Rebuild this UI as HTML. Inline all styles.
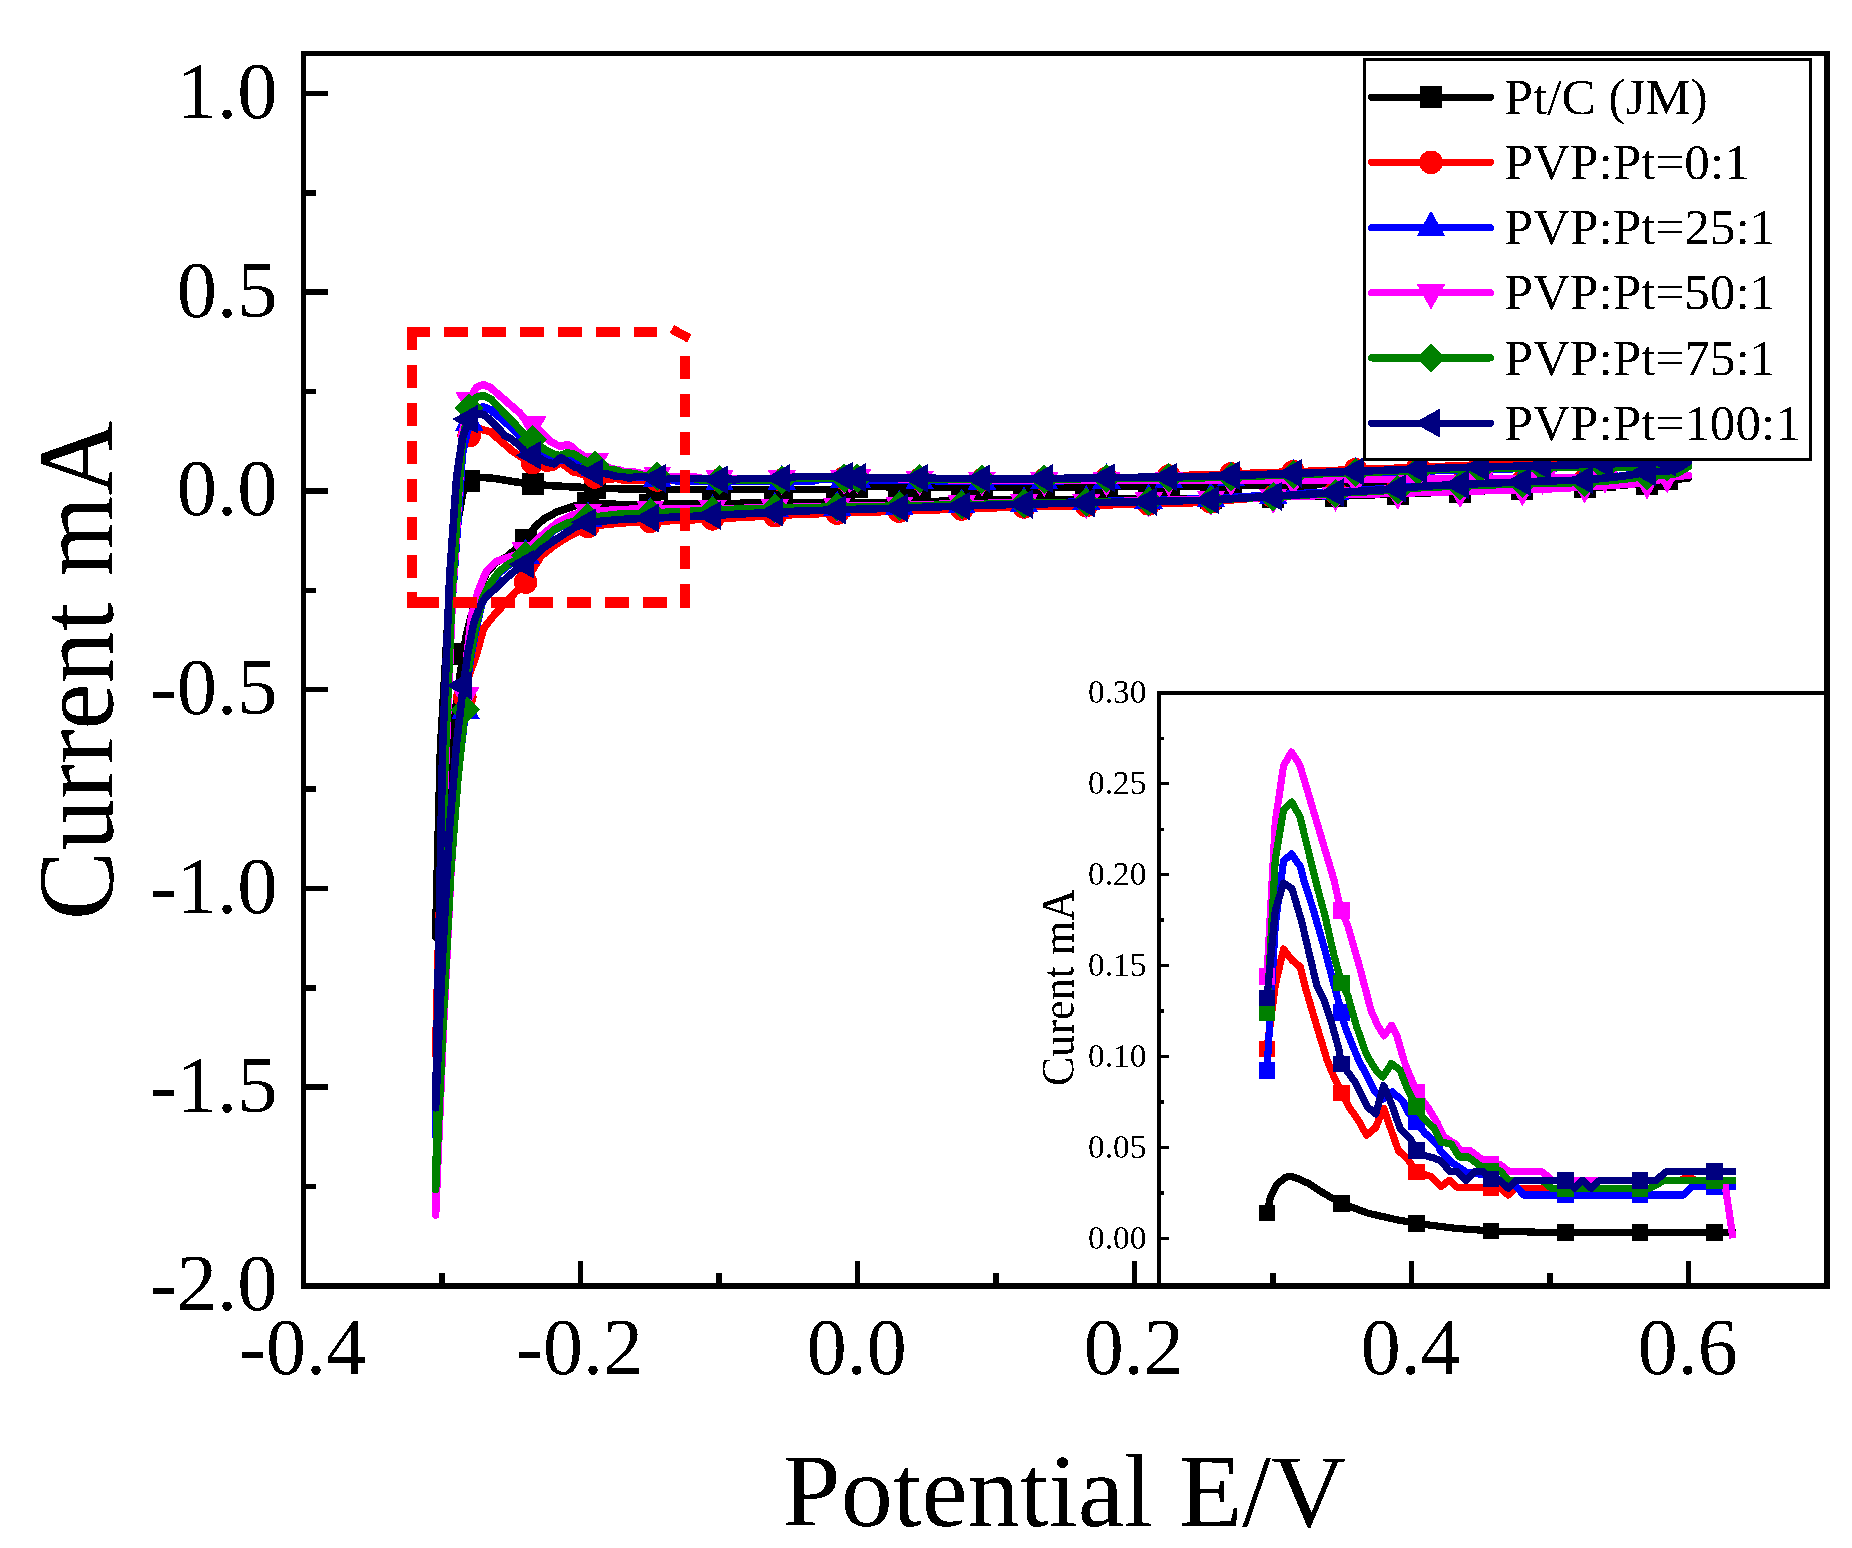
<!DOCTYPE html>
<html lang="en"><head><meta charset="utf-8"><title>CV curves</title>
<style>html,body{margin:0;padding:0;background:#fff;}svg{display:block;}text{font-family:"Liberation Serif",serif;fill:#000;}</style>
</head><body>
<svg width="1852" height="1548" viewBox="0 0 1852 1548">
<defs><filter id="bw" x="-5%" y="-20%" width="110%" height="140%" color-interpolation-filters="sRGB"><feComponentTransfer><feFuncA type="discrete" tableValues="0 1"/></feComponentTransfer></filter></defs>
<rect x="0" y="0" width="1852" height="1548" fill="#fff"/>
<g shape-rendering="crispEdges" stroke="#000" fill="none">
<rect x="303.5" y="53.7" width="1523.7" height="1232.3" stroke-width="5.5"/>
<path d="M305.75 93.45H328.25 M305.75 192.82H316.25 M305.75 292.20H328.25 M305.75 391.57H316.25 M305.75 490.95H328.25 M305.75 590.33H316.25 M305.75 689.70H328.25 M305.75 789.08H316.25 M305.75 888.45H328.25 M305.75 987.83H316.25 M305.75 1087.20H328.25 M305.75 1186.58H316.25 M442.00 1283.75V1273.25 M580.50 1283.75V1261.25 M719.00 1283.75V1273.25 M857.50 1283.75V1261.25 M996.00 1283.75V1273.25 M1134.50 1283.75V1261.25 M1273.00 1283.75V1273.25 M1411.50 1283.75V1261.25 M1550.00 1283.75V1273.25 M1688.50 1283.75V1261.25" stroke-width="5.5"/>
</g>
<g shape-rendering="crispEdges" fill="none" stroke-linejoin="round" stroke-linecap="butt">
<path d="M857.3 486.5 L1000 487.5 L1200 486 L1380 484 L1550 481 L1667 478.5 L1688.4 478 L1688.4 478 L1675 479.5 L1647 483.7 L1585 487 L1380 494.6 L1200 498.4 L1000 500 L860 503 L740 503.3 L650 504.5 L620 504.5 L587 503 L573.8 506.2 L557.5 511.6 L544 518.9 L534.9 527 L525 540.3 L516 549 L507 556.5 L496 562.5 L486.5 572.5 L479 591 L474 606 L469.3 623 L466 637 L463.3 654 L459 682 L454.5 720 L451 760 L446 820 L441 880 L435.6 937 L440.4 750 L445 670 L448.5 610 L452 560 L457 525 L460.3 507 L462.6 493.6 L466 484 L470.3 480 L478.1 477.6 L483.6 477.5 L490.6 478.1 L498.4 479 L509.1 480.9 L525.6 483.4 L548.3 485.5 L572.1 486.9 L588.2 487.7 L620.4 488.8 L650.9 489.4 L706.4 489.7 L854.8 489.7" stroke="#000000" stroke-width="7.6"/>
<g stroke="none"><rect x="846.3" y="475.5" width="22" height="22" fill="#000000"/><rect x="908.6" y="475.9" width="22" height="22" fill="#000000"/><rect x="970.9" y="476.4" width="22" height="22" fill="#000000"/><rect x="1033.2" y="476.2" width="22" height="22" fill="#000000"/><rect x="1095.5" y="475.7" width="22" height="22" fill="#000000"/><rect x="1157.8" y="475.2" width="22" height="22" fill="#000000"/><rect x="1220.1" y="474.7" width="22" height="22" fill="#000000"/><rect x="1282.4" y="474" width="22" height="22" fill="#000000"/><rect x="1344.7" y="473.3" width="22" height="22" fill="#000000"/><rect x="1407" y="472.3" width="22" height="22" fill="#000000"/><rect x="1469.3" y="471.2" width="22" height="22" fill="#000000"/><rect x="1531.6" y="470.1" width="22" height="22" fill="#000000"/><rect x="1593.9" y="468.8" width="22" height="22" fill="#000000"/><rect x="1656.2" y="467.5" width="22" height="22" fill="#000000"/><rect x="452.3" y="643" width="22" height="22" fill="#000000"/><rect x="514.6" y="528.5" width="22" height="22" fill="#000000"/><rect x="576.9" y="492" width="22" height="22" fill="#000000"/><rect x="639.2" y="493.5" width="22" height="22" fill="#000000"/><rect x="701.5" y="492.7" width="22" height="22" fill="#000000"/><rect x="763.8" y="492.2" width="22" height="22" fill="#000000"/><rect x="826.1" y="492.1" width="22" height="22" fill="#000000"/><rect x="888.4" y="491.2" width="22" height="22" fill="#000000"/><rect x="950.7" y="489.8" width="22" height="22" fill="#000000"/><rect x="1013" y="488.8" width="22" height="22" fill="#000000"/><rect x="1075.3" y="488.3" width="22" height="22" fill="#000000"/><rect x="1137.6" y="487.8" width="22" height="22" fill="#000000"/><rect x="1199.9" y="487.2" width="22" height="22" fill="#000000"/><rect x="1262.2" y="485.9" width="22" height="22" fill="#000000"/><rect x="1324.5" y="484.5" width="22" height="22" fill="#000000"/><rect x="1386.8" y="482.9" width="22" height="22" fill="#000000"/><rect x="1449.1" y="480.6" width="22" height="22" fill="#000000"/><rect x="1511.4" y="478.3" width="22" height="22" fill="#000000"/><rect x="1573.7" y="476" width="22" height="22" fill="#000000"/><rect x="1636" y="472.7" width="22" height="22" fill="#000000"/><rect x="458.2" y="470" width="22" height="22" fill="#000000"/><rect x="521.6" y="473" width="22" height="22" fill="#000000"/><rect x="583.9" y="476.9" width="22" height="22" fill="#000000"/><rect x="646.2" y="478.4" width="22" height="22" fill="#000000"/><rect x="708.5" y="478.7" width="22" height="22" fill="#000000"/><rect x="770.8" y="478.7" width="22" height="22" fill="#000000"/><rect x="833.1" y="478.7" width="22" height="22" fill="#000000"/></g>
<path d="M857.3 478.8 L1012 480.1 L1100 478.8 L1200 474.9 L1206 474.8 L1379 468.9 L1453 466 L1550 463.9 L1605 462.4 L1667 460.6 L1688.4 459.9 L1688.4 462 L1681.5 466.5 L1674.6 470 L1667 471 L1647 472 L1635 474.4 L1616 477 L1585 480 L1545 481 L1490 483.2 L1426 486 L1380 490 L1300 494.7 L1240 499.2 L1206 502.1 L1185 503.1 L1100 505 L1012 507.2 L900 511.1 L800 514.3 L740 517.5 L700 519.5 L650 521.5 L620 523 L587.5 526.5 L566.9 537.4 L554 545.8 L541 556.2 L533 569 L524.9 583.3 L515.2 592.4 L505.5 602.7 L492.6 616.9 L483.6 628.5 L476 656 L469 675 L464.8 697 L457.7 747.4 L450.5 817.8 L443.2 925.5 L435.6 1055 L444.1 726.9 L451.7 575.8 L458.9 485.4 L462.3 449.5 L469.2 435.6 L476.3 427.7 L483.5 430.1 L490.8 431.7 L496 436.8 L501.9 441.9 L507.7 447 L513.6 452 L519.8 456 L525.6 459.1 L531.7 462.2 L540 465.3 L546.5 468.4 L554.2 466.7 L560.7 462.5 L567.3 467.5 L573.3 471.9 L580.4 473.4 L588.2 476.5 L600.6 477.5 L608.9 479.6 L615.6 478.3 L622.3 479.8 L650.9 479.8 L658.4 480 L664.8 481.5 L671.3 480 L782.4 480.1 L795.4 478.3 L808.3 478.3 L815 477.5 L821.6 478.3 L854.8 478.3" stroke="#ff0000" stroke-width="7.6"/>
<g stroke="none"><circle cx="857.3" cy="478.8" r="11.8" fill="#ff0000"/><circle cx="919.6" cy="479.3" r="11.8" fill="#ff0000"/><circle cx="981.9" cy="479.8" r="11.8" fill="#ff0000"/><circle cx="1044.2" cy="479.6" r="11.8" fill="#ff0000"/><circle cx="1106.5" cy="478.6" r="11.8" fill="#ff0000"/><circle cx="1168.8" cy="476.1" r="11.8" fill="#ff0000"/><circle cx="1231.1" cy="473.9" r="11.8" fill="#ff0000"/><circle cx="1293.4" cy="471.8" r="11.8" fill="#ff0000"/><circle cx="1355.7" cy="469.7" r="11.8" fill="#ff0000"/><circle cx="1418" cy="467.4" r="11.8" fill="#ff0000"/><circle cx="1480.3" cy="465.4" r="11.8" fill="#ff0000"/><circle cx="1542.6" cy="464.1" r="11.8" fill="#ff0000"/><circle cx="1604.9" cy="462.4" r="11.8" fill="#ff0000"/><circle cx="1667.2" cy="460.6" r="11.8" fill="#ff0000"/><circle cx="464.8" cy="697" r="11.8" fill="#ff0000"/><circle cx="525.6" cy="582.1" r="11.8" fill="#ff0000"/><circle cx="587.9" cy="526.5" r="11.8" fill="#ff0000"/><circle cx="650.2" cy="521.5" r="11.8" fill="#ff0000"/><circle cx="712.5" cy="518.8" r="11.8" fill="#ff0000"/><circle cx="774.8" cy="515.7" r="11.8" fill="#ff0000"/><circle cx="837.1" cy="513.1" r="11.8" fill="#ff0000"/><circle cx="899.4" cy="511.1" r="11.8" fill="#ff0000"/><circle cx="961.7" cy="509" r="11.8" fill="#ff0000"/><circle cx="1024" cy="506.9" r="11.8" fill="#ff0000"/><circle cx="1086.3" cy="505.4" r="11.8" fill="#ff0000"/><circle cx="1148.6" cy="503.9" r="11.8" fill="#ff0000"/><circle cx="1210.9" cy="501.7" r="11.8" fill="#ff0000"/><circle cx="1273.2" cy="496.7" r="11.8" fill="#ff0000"/><circle cx="1335.5" cy="492.6" r="11.8" fill="#ff0000"/><circle cx="1397.8" cy="488.5" r="11.8" fill="#ff0000"/><circle cx="1460.1" cy="484.5" r="11.8" fill="#ff0000"/><circle cx="1522.4" cy="481.9" r="11.8" fill="#ff0000"/><circle cx="1584.7" cy="480" r="11.8" fill="#ff0000"/><circle cx="1647" cy="472" r="11.8" fill="#ff0000"/><circle cx="469.2" cy="435.6" r="11.8" fill="#ff0000"/><circle cx="532.6" cy="462.6" r="11.8" fill="#ff0000"/><circle cx="594.9" cy="477" r="11.8" fill="#ff0000"/><circle cx="657.2" cy="480" r="11.8" fill="#ff0000"/><circle cx="719.5" cy="480" r="11.8" fill="#ff0000"/><circle cx="781.8" cy="480.1" r="11.8" fill="#ff0000"/><circle cx="844.1" cy="478.3" r="11.8" fill="#ff0000"/></g>
<path d="M857.3 480 L1012 481.4 L1206 478.8 L1379 472.9 L1453 470 L1550 467.9 L1605 466.4 L1667 464.6 L1688.4 463.9 L1688.4 462 L1681.5 466.5 L1674.6 470 L1667 470.9 L1647 471.9 L1635 474.2 L1616 476.7 L1585 479.6 L1545 480.5 L1490 482.5 L1426 485.1 L1400 487.3 L1380 489 L1206 498.9 L1200 499 L1012 503.7 L1000 504.1 L900 506.4 L870 507.1 L800 507.9 L740 509.8 L700 511.5 L650 513.2 L620 514.3 L587 518.2 L566.9 523.8 L554 530.5 L541 541.8 L525.2 555.5 L509 565 L499.3 573 L489.8 586 L483.2 599 L476.5 626 L471 656 L467.3 681 L465.6 710.5 L458.4 770.4 L451 853.8 L443.4 981.6 L435.6 1135.3 L444.7 766.2 L452.5 596.3 L459.9 494.5 L462.3 454.2 L469.2 422.3 L476.3 408.5 L483.2 406.9 L491.1 409.8 L493.9 412.6 L501.9 419 L511.6 427.9 L519.3 435.5 L525.7 441.6 L528.1 444.4 L535.9 449.5 L539.8 452 L543.5 453.8 L553.1 458.8 L560.2 460.5 L567.9 459 L576.8 461 L582.1 463.8 L588.2 465.5 L594.7 467.8 L606.5 470.6 L607.8 471.7 L619.4 474.7 L629.6 476.5 L650.9 477.3 L658 478.2 L671.3 479.6 L677.8 481.5 L811.3 481.5 L818.6 479.6 L854.8 479.6" stroke="#0000ff" stroke-width="7.6"/>
<g stroke="none"><path d="M857.3 463.2L871.5 488.4H843.1Z" fill="#0000ff"/><path d="M919.6 463.8L933.8 489H905.4Z" fill="#0000ff"/><path d="M981.9 464.3L996.1 489.5H967.7Z" fill="#0000ff"/><path d="M1044.2 464.2L1058.4 489.4H1030Z" fill="#0000ff"/><path d="M1106.5 463.3L1120.7 488.5H1092.3Z" fill="#0000ff"/><path d="M1168.8 462.5L1183 487.7H1154.6Z" fill="#0000ff"/><path d="M1231.1 461.1L1245.3 486.3H1216.9Z" fill="#0000ff"/><path d="M1293.4 459L1307.6 484.2H1279.2Z" fill="#0000ff"/><path d="M1355.7 456.9L1369.9 482.1H1341.5Z" fill="#0000ff"/><path d="M1418 454.6L1432.2 479.8H1403.8Z" fill="#0000ff"/><path d="M1480.3 452.6L1494.5 477.8H1466.1Z" fill="#0000ff"/><path d="M1542.6 451.3L1556.8 476.5H1528.4Z" fill="#0000ff"/><path d="M1604.9 449.6L1619.1 474.8H1590.7Z" fill="#0000ff"/><path d="M1667.2 447.8L1681.4 473H1653Z" fill="#0000ff"/><path d="M465.6 693.7L479.8 718.9H451.4Z" fill="#0000ff"/><path d="M525.6 538.4L539.8 563.6H511.4Z" fill="#0000ff"/><path d="M587.9 501.3L602.1 526.5H573.7Z" fill="#0000ff"/><path d="M650.2 496.4L664.4 521.6H636Z" fill="#0000ff"/><path d="M712.5 494.2L726.7 519.4H698.3Z" fill="#0000ff"/><path d="M774.8 491.9L789 517.1H760.6Z" fill="#0000ff"/><path d="M837.1 490.7L851.3 515.9H822.9Z" fill="#0000ff"/><path d="M899.4 489.6L913.6 514.8H885.2Z" fill="#0000ff"/><path d="M961.7 488.2L975.9 513.4H947.5Z" fill="#0000ff"/><path d="M1024 486.6L1038.2 511.8H1009.8Z" fill="#0000ff"/><path d="M1086.3 485L1100.5 510.2H1072.1Z" fill="#0000ff"/><path d="M1148.6 483.5L1162.8 508.7H1134.4Z" fill="#0000ff"/><path d="M1210.9 481.8L1225.1 507H1196.7Z" fill="#0000ff"/><path d="M1273.2 478.3L1287.4 503.5H1259Z" fill="#0000ff"/><path d="M1335.5 474.7L1349.7 499.9H1321.3Z" fill="#0000ff"/><path d="M1397.8 470.7L1412 495.8H1383.6Z" fill="#0000ff"/><path d="M1460.1 466.9L1474.3 492.1H1445.9Z" fill="#0000ff"/><path d="M1522.4 464.5L1536.6 489.7H1508.2Z" fill="#0000ff"/><path d="M1584.7 462.9L1598.9 488H1570.5Z" fill="#0000ff"/><path d="M1647 455.1L1661.2 480.3H1632.8Z" fill="#0000ff"/><path d="M469.2 405.5L483.4 430.6H455Z" fill="#0000ff"/><path d="M532.6 430.6L546.8 455.8H518.4Z" fill="#0000ff"/><path d="M594.9 451.1L609.1 476.3H580.7Z" fill="#0000ff"/><path d="M657.2 461.3L671.4 486.5H643Z" fill="#0000ff"/><path d="M719.5 464.7L733.7 489.9H705.3Z" fill="#0000ff"/><path d="M781.8 464.7L796 489.9H767.6Z" fill="#0000ff"/><path d="M844.1 462.8L858.3 488H829.9Z" fill="#0000ff"/></g>
<path d="M857.3 477.2 L920 479.5 L1044 480.4 L1300 480 L1542 478.3 L1605 476.8 L1667 476.8 L1688.4 475.4 L1688.4 475.4 L1675 476 L1647 482.9 L1593 486.5 L1550 488.8 L1335 495 L1273 497.2 L1210 499.3 L1081 502.3 L1022 502.6 L740 508.4 L649.5 508.9 L620 509.5 L586.3 512 L572 515 L557.5 522.5 L540 537 L523.8 552.2 L507 558 L496 561.4 L486.5 571 L478.6 590 L471.6 615.6 L467 655 L465.6 695 L458.4 768.3 L451 870.4 L443.4 1026.8 L435.6 1214.9 L444.6 791.5 L452.4 596.6 L459.7 479.9 L462.3 433.7 L469.2 399.9 L476.3 387.6 L483.2 384.6 L490.4 387.5 L519.3 412.6 L523.1 417 L525.7 419.3 L531 422.8 L540.8 431.7 L550.5 441.4 L556.3 444.7 L561.1 446.7 L567.4 444.4 L571.9 446.7 L577.6 452 L579.2 453.2 L585.1 456.9 L588.2 459.1 L598.2 462.5 L605.3 465.7 L611.2 468.8 L620.4 470.3 L625.1 471.7 L632.4 471.7 L643.9 474 L650.9 474.9 L658.4 474.9 L665.6 476.4 L692.9 476.4 L701.6 478.3 L845.4 478.3 L852.5 490.9" stroke="#ff00ff" stroke-width="7.6"/>
<g stroke="none"><path d="M857.3 494L871.5 468.8H843.1Z" fill="#ff00ff"/><path d="M919.6 496.3L933.8 471.1H905.4Z" fill="#ff00ff"/><path d="M981.9 496.7L996.1 471.6H967.7Z" fill="#ff00ff"/><path d="M1044.2 497.2L1058.4 472H1030Z" fill="#ff00ff"/><path d="M1106.5 497.1L1120.7 471.9H1092.3Z" fill="#ff00ff"/><path d="M1168.8 497L1183 471.8H1154.6Z" fill="#ff00ff"/><path d="M1231.1 496.9L1245.3 471.7H1216.9Z" fill="#ff00ff"/><path d="M1293.4 496.8L1307.6 471.6H1279.2Z" fill="#ff00ff"/><path d="M1355.7 496.4L1369.9 471.2H1341.5Z" fill="#ff00ff"/><path d="M1418 496L1432.2 470.8H1403.8Z" fill="#ff00ff"/><path d="M1480.3 495.5L1494.5 470.3H1466.1Z" fill="#ff00ff"/><path d="M1542.6 495.1L1556.8 469.9H1528.4Z" fill="#ff00ff"/><path d="M1604.9 493.6L1619.1 468.4H1590.7Z" fill="#ff00ff"/><path d="M1667.2 493.6L1681.4 468.4H1653Z" fill="#ff00ff"/><path d="M465.6 711.8L479.8 686.6H451.4Z" fill="#ff00ff"/><path d="M525.6 567.3L539.8 542.1H511.4Z" fill="#ff00ff"/><path d="M587.9 528.7L602.1 503.5H573.7Z" fill="#ff00ff"/><path d="M650.2 525.7L664.4 500.5H636Z" fill="#ff00ff"/><path d="M712.5 525.3L726.7 500.2H698.3Z" fill="#ff00ff"/><path d="M774.8 524.5L789 499.3H760.6Z" fill="#ff00ff"/><path d="M837.1 523.2L851.3 498H822.9Z" fill="#ff00ff"/><path d="M899.4 521.9L913.6 496.7H885.2Z" fill="#ff00ff"/><path d="M961.7 520.6L975.9 495.4H947.5Z" fill="#ff00ff"/><path d="M1024 519.4L1038.2 494.2H1009.8Z" fill="#ff00ff"/><path d="M1086.3 519L1100.5 493.8H1072.1Z" fill="#ff00ff"/><path d="M1148.6 517.5L1162.8 492.3H1134.4Z" fill="#ff00ff"/><path d="M1210.9 516.1L1225.1 490.9H1196.7Z" fill="#ff00ff"/><path d="M1273.2 514L1287.4 488.8H1259Z" fill="#ff00ff"/><path d="M1335.5 511.8L1349.7 486.6H1321.3Z" fill="#ff00ff"/><path d="M1397.8 510L1412 484.8H1383.6Z" fill="#ff00ff"/><path d="M1460.1 508.2L1474.3 483H1445.9Z" fill="#ff00ff"/><path d="M1522.4 506.4L1536.6 481.2H1508.2Z" fill="#ff00ff"/><path d="M1584.7 503.7L1598.9 478.5H1570.5Z" fill="#ff00ff"/><path d="M1647 499.7L1661.2 474.5H1632.8Z" fill="#ff00ff"/><path d="M469.2 416.7L483.4 391.5H455Z" fill="#ff00ff"/><path d="M532.6 441L546.8 415.8H518.4Z" fill="#ff00ff"/><path d="M594.9 478.2L609.1 453H580.7Z" fill="#ff00ff"/><path d="M657.2 491.7L671.4 466.5H643Z" fill="#ff00ff"/><path d="M719.5 495.1L733.7 469.9H705.3Z" fill="#ff00ff"/><path d="M781.8 495.1L796 469.9H767.6Z" fill="#ff00ff"/><path d="M844.1 495.1L858.3 469.9H829.9Z" fill="#ff00ff"/></g>
<path d="M857.3 478.2 L1012 479.6 L1150 477.8 L1200 477.8 L1206 477.7 L1379 471.8 L1400 471 L1453 469.1 L1550 467.5 L1605 467.4 L1667 467.1 L1688.4 466.5 L1688.4 466.5 L1681.5 470.9 L1674.6 474.2 L1667 475 L1647 475.6 L1635 477.8 L1616 480.1 L1585 482.6 L1550 482.9 L1545 483 L1490 484.9 L1426 487.3 L1380 491 L1206 500.2 L1200 500.3 L1012 503.7 L1000 504 L900 506 L870 506.6 L800 507.6 L740 509 L700 510.9 L650 512.9 L620 514 L587 517.8 L566.9 523.2 L554 529.7 L541 541.3 L525.2 556.3 L508.8 563.9 L499.1 571.7 L489.4 584.6 L482.9 597.5 L476 625 L470.5 655 L467 680 L465.1 709.8 L458 777.4 L450.7 871.7 L443.3 1016 L435.6 1189.6 L444.2 784.2 L451.8 597.5 L459.1 485.8 L462.3 441.5 L469.2 408 L476.3 397.3 L483.5 395.6 L490.6 398.9 L503.9 412.6 L508.2 417 L511.6 420.3 L519.3 429.2 L525.7 435.2 L531 438.1 L537.9 444.4 L545.6 450.2 L548.3 451.7 L554.2 454.2 L560.2 455.7 L567.3 452.8 L574.4 454.2 L580.4 458.2 L588.2 462.3 L593.4 464.6 L602.9 466.9 L608.9 470 L617.2 470.3 L623.7 473.2 L631.6 473.2 L643.9 475.6 L650.9 476.5 L658.4 476.3 L664.8 478.3 L692.9 478.3 L701.4 480.1 L782.4 480.1 L795.4 478.3 L854.8 478.3" stroke="#008000" stroke-width="7.6"/>
<g stroke="none"><path d="M857.3 463.5L872 478.2L857.3 492.9L842.6 478.2Z" fill="#008000"/><path d="M919.6 464.1L934.3 478.8L919.6 493.5L904.9 478.8Z" fill="#008000"/><path d="M981.9 464.6L996.6 479.3L981.9 494L967.2 479.3Z" fill="#008000"/><path d="M1044.2 464.5L1058.9 479.2L1044.2 493.9L1029.5 479.2Z" fill="#008000"/><path d="M1106.5 463.6L1121.2 478.3L1106.5 493L1091.8 478.3Z" fill="#008000"/><path d="M1168.8 463.1L1183.5 477.8L1168.8 492.5L1154.1 477.8Z" fill="#008000"/><path d="M1231.1 462.1L1245.8 476.8L1231.1 491.5L1216.4 476.8Z" fill="#008000"/><path d="M1293.4 460L1308.1 474.7L1293.4 489.4L1278.7 474.7Z" fill="#008000"/><path d="M1355.7 457.9L1370.4 472.6L1355.7 487.3L1341 472.6Z" fill="#008000"/><path d="M1418 455.7L1432.7 470.4L1418 485.1L1403.3 470.4Z" fill="#008000"/><path d="M1480.3 454L1495 468.7L1480.3 483.4L1465.6 468.7Z" fill="#008000"/><path d="M1542.6 452.9L1557.3 467.6L1542.6 482.3L1527.9 467.6Z" fill="#008000"/><path d="M1604.9 452.7L1619.6 467.4L1604.9 482.1L1590.2 467.4Z" fill="#008000"/><path d="M1667.2 452.4L1681.9 467.1L1667.2 481.8L1652.5 467.1Z" fill="#008000"/><path d="M465.1 695.1L479.8 709.8L465.1 724.5L450.4 709.8Z" fill="#008000"/><path d="M525.6 541.2L540.3 555.9L525.6 570.6L510.9 555.9Z" fill="#008000"/><path d="M587.9 503L602.6 517.7L587.9 532.4L573.2 517.7Z" fill="#008000"/><path d="M650.2 498.2L664.9 512.9L650.2 527.6L635.5 512.9Z" fill="#008000"/><path d="M712.5 495.6L727.2 510.3L712.5 525L697.8 510.3Z" fill="#008000"/><path d="M774.8 493.5L789.5 508.2L774.8 522.9L760.1 508.2Z" fill="#008000"/><path d="M837.1 492.4L851.8 507.1L837.1 521.8L822.4 507.1Z" fill="#008000"/><path d="M899.4 491.3L914.1 506L899.4 520.7L884.7 506Z" fill="#008000"/><path d="M961.7 490.1L976.4 504.8L961.7 519.5L947 504.8Z" fill="#008000"/><path d="M1024 488.7L1038.7 503.4L1024 518.1L1009.3 503.4Z" fill="#008000"/><path d="M1086.3 487.6L1101 502.3L1086.3 517L1071.6 502.3Z" fill="#008000"/><path d="M1148.6 486.5L1163.3 501.2L1148.6 515.9L1133.9 501.2Z" fill="#008000"/><path d="M1210.9 485.3L1225.6 500L1210.9 514.7L1196.2 500Z" fill="#008000"/><path d="M1273.2 482L1287.9 496.7L1273.2 511.4L1258.5 496.7Z" fill="#008000"/><path d="M1335.5 478.7L1350.2 493.4L1335.5 508.1L1320.8 493.4Z" fill="#008000"/><path d="M1397.8 474.9L1412.5 489.6L1397.8 504.3L1383.1 489.6Z" fill="#008000"/><path d="M1460.1 471.3L1474.8 486L1460.1 500.7L1445.4 486Z" fill="#008000"/><path d="M1522.4 469L1537.1 483.7L1522.4 498.4L1507.7 483.7Z" fill="#008000"/><path d="M1584.7 467.9L1599.4 482.6L1584.7 497.3L1570 482.6Z" fill="#008000"/><path d="M1647 460.9L1661.7 475.6L1647 490.3L1632.3 475.6Z" fill="#008000"/><path d="M469.2 393.3L483.9 408L469.2 422.7L454.5 408Z" fill="#008000"/><path d="M532.6 424.8L547.3 439.5L532.6 454.2L517.9 439.5Z" fill="#008000"/><path d="M594.9 450.2L609.6 464.9L594.9 479.6L580.2 464.9Z" fill="#008000"/><path d="M657.2 461.6L671.9 476.3L657.2 491L642.5 476.3Z" fill="#008000"/><path d="M719.5 465.4L734.2 480.1L719.5 494.8L704.8 480.1Z" fill="#008000"/><path d="M781.8 465.4L796.5 480.1L781.8 494.8L767.1 480.1Z" fill="#008000"/><path d="M844.1 463.6L858.8 478.3L844.1 493L829.4 478.3Z" fill="#008000"/></g>
<path d="M857.3 477.6 L1012 479 L1206 476.4 L1379 470.5 L1453 467.6 L1550 465.5 L1605 464 L1667 462.2 L1688.4 461.5 L1688.4 462 L1681.5 466.5 L1674.6 470 L1667 471 L1647 472 L1635 474.4 L1616 477 L1585 480 L1545 481 L1490 483.2 L1426 486 L1380 490 L1206 500.2 L1012 504.5 L900 508 L800 511 L740 514 L700 516 L650.6 518.1 L620 519.5 L587.5 522.4 L575.6 527 L566.9 532.3 L554 540.7 L541 549.7 L534.6 557 L525.4 564.5 L516 570 L507.5 577 L497.1 587 L490.3 593 L485.2 598 L480 606 L473.7 623 L468 652 L463.3 685.5 L456.4 745 L449.5 828 L442.6 955 L435.6 1107.8 L442.7 745 L449.6 578 L456.5 478 L462.3 438.4 L469.2 419.2 L476.3 413.3 L483.5 414.5 L491.9 421.5 L499 429.2 L504.8 435.5 L511.6 439.3 L516.5 443.1 L523.2 449.5 L525.6 452.8 L536.4 456.6 L547.1 462.2 L554.2 463.8 L560.7 457.6 L567.3 461.6 L574.4 466.9 L582.8 469.1 L588.2 471.9 L595.8 472.9 L602.9 473.4 L607.8 474 L616.5 476.4 L622.3 476.4 L629.5 478.3 L636.7 476.4 L643.8 476.4 L650.9 478.2 L658 478.3 L664.8 480 L671.3 478.3 L713.1 478.3 L720.4 480 L726.9 478.3 L734.1 480 L741.3 478.3 L788.2 478.3 L796.8 476.4 L854.8 476.4" stroke="#000080" stroke-width="7.6"/>
<g stroke="none"><path d="M840.3 477.6L865.8 463.2V492Z" fill="#000080"/><path d="M902.6 478.2L928.1 463.8V492.6Z" fill="#000080"/><path d="M964.9 478.7L990.4 464.3V493.1Z" fill="#000080"/><path d="M1027.2 478.6L1052.7 464.2V493Z" fill="#000080"/><path d="M1089.5 477.7L1115 463.3V492.1Z" fill="#000080"/><path d="M1151.8 476.9L1177.3 462.5V491.3Z" fill="#000080"/><path d="M1214.1 475.5L1239.6 461.1V489.9Z" fill="#000080"/><path d="M1276.4 473.4L1301.9 459V487.8Z" fill="#000080"/><path d="M1338.7 471.3L1364.2 456.9V485.7Z" fill="#000080"/><path d="M1401 469L1426.5 454.6V483.4Z" fill="#000080"/><path d="M1463.3 467L1488.8 452.6V481.4Z" fill="#000080"/><path d="M1525.6 465.7L1551.1 451.3V480.1Z" fill="#000080"/><path d="M1587.9 464L1613.4 449.6V478.4Z" fill="#000080"/><path d="M1650.2 462.2L1675.7 447.8V476.6Z" fill="#000080"/><path d="M446.3 685.5L471.8 671.1V699.9Z" fill="#000080"/><path d="M508.6 564.3L534.1 549.9V578.7Z" fill="#000080"/><path d="M570.9 522.4L596.4 508V536.8Z" fill="#000080"/><path d="M633.2 518.1L658.7 503.7V532.5Z" fill="#000080"/><path d="M695.5 515.4L721 501V529.8Z" fill="#000080"/><path d="M757.8 512.3L783.3 497.9V526.7Z" fill="#000080"/><path d="M820.1 509.9L845.6 495.5V524.3Z" fill="#000080"/><path d="M882.4 508L907.9 493.6V522.4Z" fill="#000080"/><path d="M944.7 506.1L970.2 491.7V520.5Z" fill="#000080"/><path d="M1007 504.2L1032.5 489.8V518.6Z" fill="#000080"/><path d="M1069.3 502.9L1094.8 488.5V517.3Z" fill="#000080"/><path d="M1131.6 501.5L1157.1 487.1V515.9Z" fill="#000080"/><path d="M1193.9 499.9L1219.4 485.5V514.3Z" fill="#000080"/><path d="M1256.2 496.3L1281.7 481.9V510.7Z" fill="#000080"/><path d="M1318.5 492.6L1344 478.2V507Z" fill="#000080"/><path d="M1380.8 488.5L1406.3 474.1V502.9Z" fill="#000080"/><path d="M1443.1 484.5L1468.6 470.1V498.9Z" fill="#000080"/><path d="M1505.4 481.9L1530.9 467.5V496.3Z" fill="#000080"/><path d="M1567.7 480L1593.2 465.6V494.4Z" fill="#000080"/><path d="M1630 472L1655.5 457.6V486.4Z" fill="#000080"/><path d="M452.2 419.2L477.7 404.8V433.6Z" fill="#000080"/><path d="M515.6 455.3L541.1 440.9V469.7Z" fill="#000080"/><path d="M577.9 472.8L603.4 458.4V487.2Z" fill="#000080"/><path d="M640.2 478.3L665.7 463.9V492.7Z" fill="#000080"/><path d="M702.5 479.8L728 465.4V494.2Z" fill="#000080"/><path d="M764.8 478.3L790.3 463.9V492.7Z" fill="#000080"/><path d="M827.1 476.4L852.6 462V490.8Z" fill="#000080"/></g>
</g>
<g shape-rendering="crispEdges" fill="#ff0000">
<rect x="407" y="327" width="23" height="9.6"/><rect x="444" y="327" width="24" height="9.6"/><rect x="482" y="327" width="24" height="9.6"/><rect x="520" y="327" width="24" height="9.6"/><rect x="558" y="327" width="24" height="9.6"/><rect x="596" y="327" width="24" height="9.6"/><rect x="634" y="327" width="23" height="9.6"/><rect x="407" y="327" width="10" height="23"/><rect x="407" y="365" width="10" height="23"/><rect x="407" y="403" width="10" height="23"/><rect x="407" y="441" width="10" height="23"/><rect x="407" y="479" width="10" height="23"/><rect x="407" y="517" width="10" height="23"/><rect x="407" y="555" width="10" height="23"/><rect x="407" y="592" width="10" height="15.6"/><rect x="407" y="597" width="31.6" height="10.6"/><rect x="453" y="597" width="24" height="10.6"/><rect x="491" y="597" width="24" height="10.6"/><rect x="529" y="597" width="24" height="10.6"/><rect x="567" y="597" width="24" height="10.6"/><rect x="605" y="597" width="24" height="10.6"/><rect x="643" y="597" width="24" height="10.6"/><rect x="680" y="356" width="9.8" height="23"/><rect x="680" y="394" width="9.8" height="23"/><rect x="680" y="432" width="9.8" height="23"/><rect x="680" y="470" width="9.8" height="23"/><rect x="680" y="508" width="9.8" height="23"/><rect x="680" y="546" width="9.8" height="23"/><rect x="680" y="584" width="9.8" height="23.6"/>
<polygon points="674,325 691.4,334.4 687.4,342.6 669.6,333"/>
</g>
<g font-size="80.6" filter="url(#bw)">
<text x="277.5" y="117.8" text-anchor="end">1.0</text>
<text x="277.5" y="316.6" text-anchor="end">0.5</text>
<text x="277.5" y="515.4" text-anchor="end">0.0</text>
<text x="277.5" y="714.1" text-anchor="end">-0.5</text>
<text x="277.5" y="912.9" text-anchor="end">-1.0</text>
<text x="277.5" y="1111.6" text-anchor="end">-1.5</text>
<text x="277.5" y="1310.4" text-anchor="end">-2.0</text>
</g>
<g font-size="80" filter="url(#bw)">
<text x="302.7" y="1373.8" text-anchor="middle">-0.4</text>
<text x="579.7" y="1373.8" text-anchor="middle">-0.2</text>
<text x="856.7" y="1373.8" text-anchor="middle">0.0</text>
<text x="1133.7" y="1373.8" text-anchor="middle">0.2</text>
<text x="1410.7" y="1373.8" text-anchor="middle">0.4</text>
<text x="1687.7" y="1373.8" text-anchor="middle">0.6</text>
</g>
<text filter="url(#bw)" font-size="104.5" text-anchor="middle" transform="translate(1064.6 1525.5) scale(0.996 1)">Potential E/V</text>
<text filter="url(#bw)" font-size="107" text-anchor="middle" transform="translate(112.6 670.4) rotate(-90) scale(0.972 1)">Current mA</text>
<g shape-rendering="crispEdges" stroke="#000" fill="none">
<path d="M1159.2 1284.0V693.0H1825.2" stroke-width="3.6"/>
<path d="M1160.2 738.3h4.0 M1160.2 783.7h8.8 M1160.2 829.2h4.0 M1160.2 874.6h8.8 M1160.2 920.1h4.0 M1160.2 965.5h8.8 M1160.2 1011.0h4.0 M1160.2 1056.4h8.8 M1160.2 1101.9h4.0 M1160.2 1147.3h8.8 M1160.2 1192.8h4.0 M1160.2 1238.2h8.8" stroke-width="3.4"/>
</g>
<g shape-rendering="crispEdges" fill="none" stroke-linejoin="round" stroke-linecap="butt">
<path d="M1267 1212.9 L1270.6 1196.4 L1276.3 1185 L1285.6 1177.2 L1292 1176.5 L1300 1179.5 L1309 1183.6 L1321.8 1192.1 L1341.5 1203.5 L1368.7 1213.4 L1397.2 1219.8 L1416.5 1223.4 L1455 1228.3 L1491.6 1231 L1558 1232.7 L1735.7 1232.7" stroke="#000000" stroke-width="7.2"/>
<g stroke="none"><rect x="1258.7" y="1204.6" width="16.6" height="16.6" fill="#000000"/><rect x="1333.3" y="1195.2" width="16.6" height="16.6" fill="#000000"/><rect x="1407.9" y="1215" width="16.6" height="16.6" fill="#000000"/><rect x="1482.5" y="1222.6" width="16.6" height="16.6" fill="#000000"/><rect x="1557.1" y="1224.4" width="16.6" height="16.6" fill="#000000"/><rect x="1631.7" y="1224.4" width="16.6" height="16.6" fill="#000000"/><rect x="1706.3" y="1224.4" width="16.6" height="16.6" fill="#000000"/></g>
<path d="M1267 1048.8 L1275.3 985 L1283.6 949 L1291.9 960 L1300.3 967 L1306.2 990.5 L1313.1 1013.7 L1320.1 1037 L1327.1 1060 L1334.6 1078.4 L1341.5 1092.6 L1348.8 1106.8 L1358.8 1121 L1366.6 1135.2 L1375.8 1127.4 L1383.6 1108.2 L1391.5 1131 L1398.6 1150.9 L1407.1 1158 L1416.5 1172.3 L1431.3 1176.5 L1441.2 1186.4 L1449.3 1180.3 L1457.3 1187.3 L1491.6 1187.3 L1500.5 1188.1 L1508.2 1195 L1516 1188.1 L1649 1188.4 L1664.6 1180.3 L1680 1180.3 L1688 1176.5 L1696 1180.3 L1735.7 1180.3" stroke="#ff0000" stroke-width="7.2"/>
<g stroke="none"><rect x="1258.7" y="1040.5" width="16.6" height="16.6" fill="#ff0000"/><rect x="1333.3" y="1084.5" width="16.6" height="16.6" fill="#ff0000"/><rect x="1407.9" y="1163.5" width="16.6" height="16.6" fill="#ff0000"/><rect x="1482.5" y="1179" width="16.6" height="16.6" fill="#ff0000"/><rect x="1557.1" y="1179.9" width="16.6" height="16.6" fill="#ff0000"/><rect x="1631.7" y="1180.1" width="16.6" height="16.6" fill="#ff0000"/><rect x="1706.3" y="1172" width="16.6" height="16.6" fill="#ff0000"/></g>
<path d="M1267 1070.3 L1275.3 924 L1283.6 861 L1291.5 854 L1300.6 867 L1303.8 880 L1313.1 909 L1324.8 949.8 L1334 984.7 L1341.6 1012.6 L1344.5 1025.3 L1353.8 1048.6 L1358.5 1060 L1363 1068.4 L1374.4 1091.2 L1383 1099 L1392.2 1091.9 L1402.8 1101.1 L1409.2 1113.9 L1416.5 1122 L1424.2 1132.4 L1438.4 1145.2 L1440 1150.1 L1453.8 1163.9 L1466 1172 L1491.6 1176 L1500 1180 L1516 1186.4 L1523.8 1195 L1683.6 1195 L1692.3 1186.4 L1735.7 1186.4" stroke="#0000ff" stroke-width="7.2"/>
<g stroke="none"><rect x="1258.7" y="1062" width="16.6" height="16.6" fill="#0000ff"/><rect x="1333.3" y="1004.3" width="16.6" height="16.6" fill="#0000ff"/><rect x="1407.9" y="1113.4" width="16.6" height="16.6" fill="#0000ff"/><rect x="1482.5" y="1167.6" width="16.6" height="16.6" fill="#0000ff"/><rect x="1557.1" y="1186.7" width="16.6" height="16.6" fill="#0000ff"/><rect x="1631.7" y="1186.7" width="16.6" height="16.6" fill="#0000ff"/><rect x="1706.3" y="1178.1" width="16.6" height="16.6" fill="#0000ff"/></g>
<path d="M1267 976.4 L1275.3 822 L1283.6 765.5 L1291.5 752 L1299.8 765 L1334 880 L1338.5 900 L1341.6 910.5 L1348 926.5 L1359.7 967.2 L1371.3 1011.4 L1378.3 1026.5 L1384 1035.8 L1391.6 1025.3 L1396.9 1035.8 L1403.8 1060 L1405.7 1065.6 L1412.8 1082.6 L1416.5 1092.6 L1428.4 1108.2 L1437 1122.5 L1444 1136.7 L1455 1143.8 L1460.7 1150.1 L1469.4 1150.1 L1483.2 1160.5 L1491.6 1164.8 L1500.5 1164.8 L1509.1 1171.7 L1541.9 1171.7 L1552.3 1180.3 L1724.5 1180.3 L1732.9 1238.2" stroke="#ff00ff" stroke-width="7.2"/>
<g stroke="none"><rect x="1258.7" y="968.1" width="16.6" height="16.6" fill="#ff00ff"/><rect x="1333.3" y="902.2" width="16.6" height="16.6" fill="#ff00ff"/><rect x="1407.9" y="1083.5" width="16.6" height="16.6" fill="#ff00ff"/><rect x="1482.5" y="1156.1" width="16.6" height="16.6" fill="#ff00ff"/><rect x="1557.1" y="1172" width="16.6" height="16.6" fill="#ff00ff"/><rect x="1631.7" y="1172" width="16.6" height="16.6" fill="#ff00ff"/><rect x="1706.3" y="1172" width="16.6" height="16.6" fill="#ff00ff"/></g>
<path d="M1267 1012.2 L1275.3 859 L1283.6 810 L1291.8 802 L1300 817 L1315.5 880 L1320.7 900 L1324.8 914.9 L1334 955.6 L1341.6 983.1 L1348 996.3 L1356.2 1025.3 L1365.5 1052 L1368.7 1058.5 L1375.8 1069.9 L1382.9 1077 L1391.5 1063.5 L1400 1069.9 L1407.1 1088.3 L1416.5 1107 L1422.7 1117.5 L1434.1 1128.1 L1441.2 1142.3 L1451.2 1143.8 L1459 1157 L1468.5 1157 L1483.2 1168.2 L1491.6 1172 L1500.5 1171 L1508.2 1180.3 L1541.9 1180.3 L1552 1188.6 L1649 1188.6 L1664.6 1180.3 L1735.7 1180.3" stroke="#008000" stroke-width="7.2"/>
<g stroke="none"><rect x="1258.7" y="1003.9" width="16.6" height="16.6" fill="#008000"/><rect x="1333.3" y="974.8" width="16.6" height="16.6" fill="#008000"/><rect x="1407.9" y="1098.1" width="16.6" height="16.6" fill="#008000"/><rect x="1482.5" y="1163.3" width="16.6" height="16.6" fill="#008000"/><rect x="1557.1" y="1180.3" width="16.6" height="16.6" fill="#008000"/><rect x="1631.7" y="1180.3" width="16.6" height="16.6" fill="#008000"/><rect x="1706.3" y="1172" width="16.6" height="16.6" fill="#008000"/></g>
<path d="M1267 998 L1275.3 910 L1283.6 883 L1291.9 888.5 L1301.5 920.7 L1309.7 955.6 L1316.6 984.7 L1324.8 1002.1 L1330.6 1019.5 L1338.7 1048.6 L1341.5 1063.7 L1354.5 1081.2 L1367.3 1106.8 L1375.8 1113.9 L1383.6 1085.5 L1391.5 1104 L1400 1128.1 L1410 1138.1 L1416.5 1150.9 L1425.6 1155.8 L1434.1 1158 L1440 1160.5 L1450.4 1171.7 L1457.3 1171.7 L1465.9 1180.3 L1474.6 1171.7 L1483 1171.7 L1491.6 1179.8 L1500 1180.3 L1508.2 1188.1 L1516 1180.3 L1566 1180.3 L1574.8 1188.1 L1582.5 1180.3 L1591.2 1188.1 L1599.8 1180.3 L1656 1180.3 L1666.3 1171.7 L1735.7 1171.7" stroke="#000080" stroke-width="7.2"/>
<g stroke="none"><rect x="1258.7" y="989.7" width="16.6" height="16.6" fill="#000080"/><rect x="1333.3" y="1055.5" width="16.6" height="16.6" fill="#000080"/><rect x="1407.9" y="1142" width="16.6" height="16.6" fill="#000080"/><rect x="1482.5" y="1170.7" width="16.6" height="16.6" fill="#000080"/><rect x="1557.1" y="1172" width="16.6" height="16.6" fill="#000080"/><rect x="1631.7" y="1172" width="16.6" height="16.6" fill="#000080"/><rect x="1706.3" y="1163.4" width="16.6" height="16.6" fill="#000080"/></g>
</g>
<g font-size="33.5" text-anchor="end" filter="url(#bw)">
<text x="1146.6" y="703.4">0.30</text>
<text x="1146.6" y="794.3">0.25</text>
<text x="1146.6" y="885.2">0.20</text>
<text x="1146.6" y="976.1">0.15</text>
<text x="1146.6" y="1067.0">0.10</text>
<text x="1146.6" y="1157.9">0.05</text>
<text x="1146.6" y="1248.8">0.00</text>
</g>
<text filter="url(#bw)" font-size="47" text-anchor="middle" transform="translate(1073.6 987.5) rotate(-90) scale(0.938 1)">Curent mA</text>
<g shape-rendering="crispEdges">
<rect x="1364.4" y="59.8" width="446.4" height="399.4" fill="#fff" stroke="#000" stroke-width="3"/>
</g>
<g shape-rendering="crispEdges" stroke-linecap="round" stroke-width="7.2">
<path d="M1371.6 97.3H1490.4" stroke="#000000"/><rect x="1420" y="86.3" width="22" height="22" fill="#000000"/>
<path d="M1371.6 162.4H1490.4" stroke="#ff0000"/><circle cx="1431" cy="162.4" r="11.8" fill="#ff0000"/>
<path d="M1371.6 227.6H1490.4" stroke="#0000ff"/><path d="M1431 210.8L1445.2 236H1416.8Z" fill="#0000ff"/>
<path d="M1371.6 292.8H1490.4" stroke="#ff00ff"/><path d="M1431 309.5L1445.2 284.4H1416.8Z" fill="#ff00ff"/>
<path d="M1371.6 357.9H1490.4" stroke="#008000"/><path d="M1431 343.2L1445.7 357.9L1431 372.6L1416.3 357.9Z" fill="#008000"/>
<path d="M1371.6 423.1H1490.4" stroke="#000080"/><path d="M1414 423.1L1439.5 408.7V437.4Z" fill="#000080"/>
</g>
<g font-size="50.6" filter="url(#bw)">
<text transform="translate(1504.5 114.0) scale(1.012 1)">Pt/C (JM)</text>
<text transform="translate(1504.5 179.1) scale(1.012 1)">PVP:Pt=0:1</text>
<text transform="translate(1504.5 244.3) scale(1.012 1)">PVP:Pt=25:1</text>
<text transform="translate(1504.5 309.4) scale(1.012 1)">PVP:Pt=50:1</text>
<text transform="translate(1504.5 374.6) scale(1.012 1)">PVP:Pt=75:1</text>
<text transform="translate(1504.5 439.8) scale(1.012 1)">PVP:Pt=100:1</text>
</g>
</svg></body></html>
